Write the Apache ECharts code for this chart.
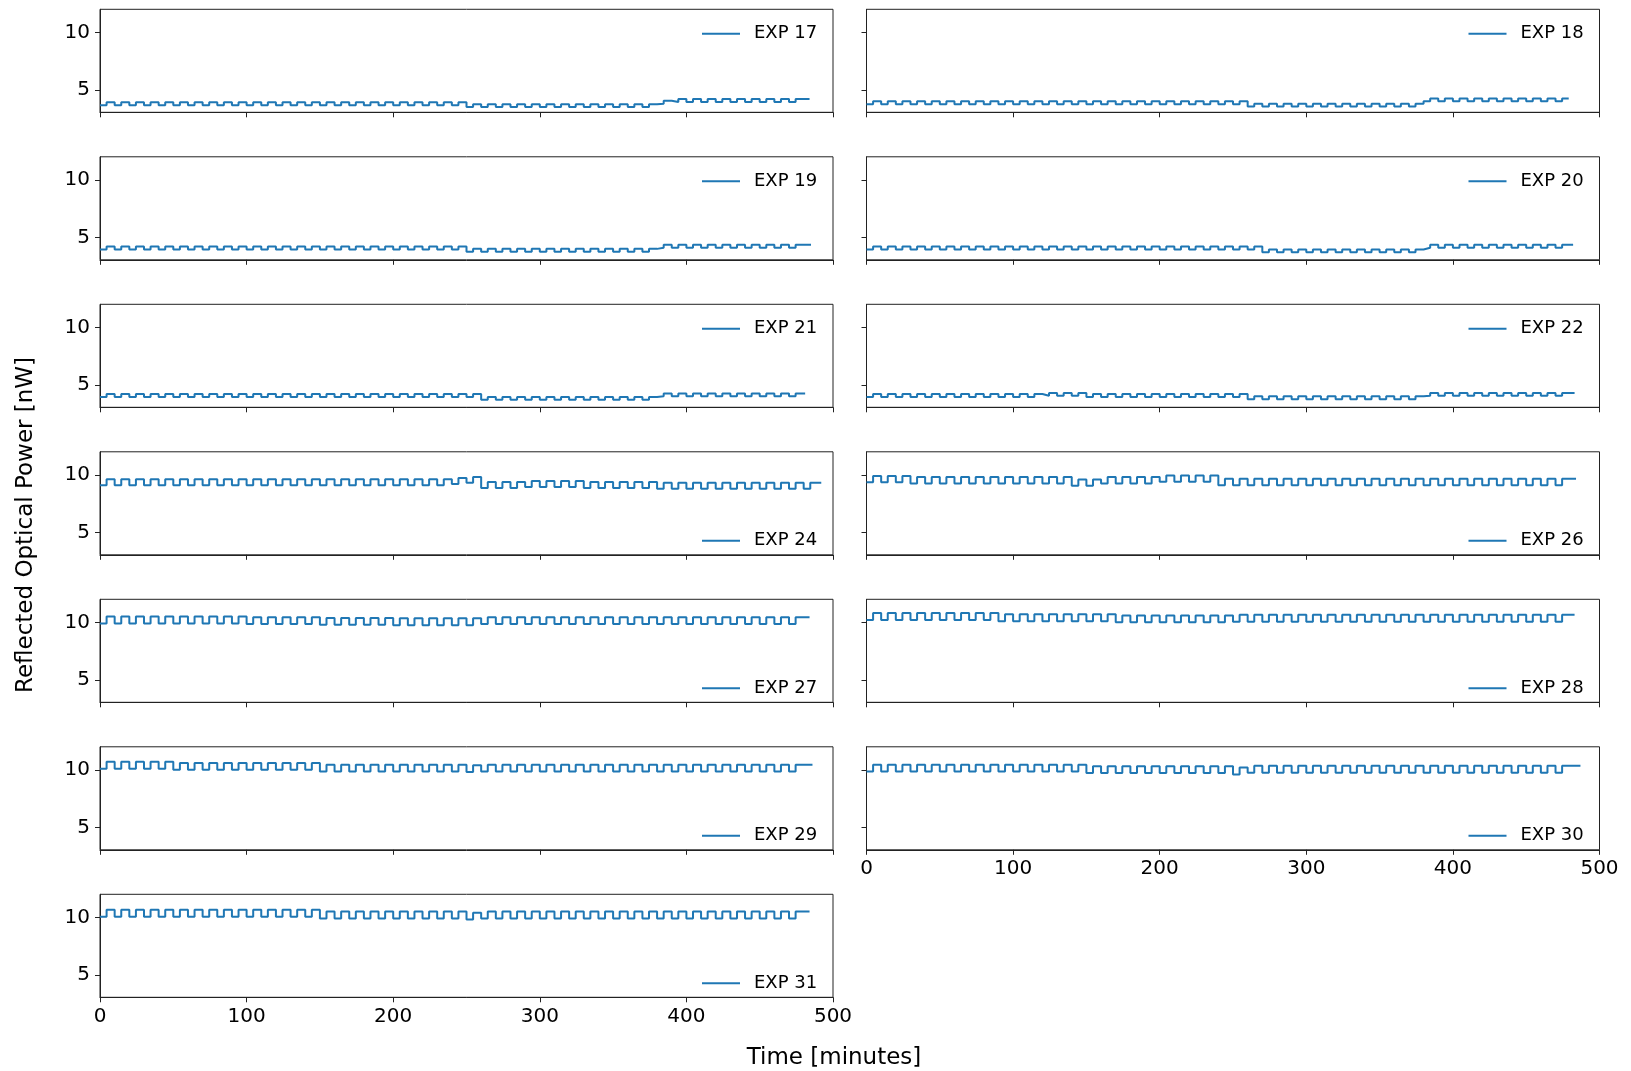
<!DOCTYPE html>
<html lang="en">
<head>
    <meta charset="UTF-8">
    <title>Reflected optical power</title>
    <script src="https://cdn.jsdelivr.net/npm/echarts@6/dist/echarts.min.js"></script>
    <style>
        html, body {
            margin: 0;
            padding: 0;
            background: #fff;
        }
        #chart {
            width: 1631px;
            height: 1071px;
        }
    </style>
</head>
<body>
<div id="chart"></div>
<script>
    // start of each 10 minute cycle, the signal goes high a bit later in the cycle
    var cycleStart = [0, 10, 20, 30, 40, 50, 60, 70, 80, 90,
        100, 110, 120, 130, 140, 150, 160, 170, 180, 190,
        200, 210, 220, 230, 240, 250, 260, 270, 280, 290,
        300, 310, 320, 330, 340, 350, 360, 370, 380, 390,
        400, 410, 420, 430, 440, 450, 460, 470, 480];
    var riseAfter = 4.5;

    var expNames = ['EXP 17', 'EXP 18', 'EXP 19', 'EXP 20', 'EXP 21', 'EXP 22', 'EXP 24',
        'EXP 26', 'EXP 27', 'EXP 28', 'EXP 29', 'EXP 30', 'EXP 31'];
    var endTimes = [484, 479, 485, 482, 481, 483, 492, 484, 484, 483, 486, 487, 484];
    var yTicks = [5, 10];

    // low / high level of every cycle [nW]
    var low17 = [3.67,3.67,3.67,3.67,3.67,3.67,3.67,3.67,3.67,3.67,
        3.67,3.67,3.67,3.67,3.67,3.67,3.67,3.67,3.67,3.67,
        3.67,3.67,3.67,3.67,3.67,3.50,3.50,3.50,3.50,3.50,
        3.50,3.50,3.50,3.50,3.50,3.50,3.50,3.50,3.80,3.95,
        3.95,3.95,3.95,3.95,3.95,3.95,3.95,3.95];
    var high17 = [3.93,3.93,3.93,3.93,3.93,3.93,3.93,3.93,3.93,3.93,
        3.93,3.93,3.93,3.93,3.93,3.93,3.93,3.93,3.93,3.93,
        3.93,3.93,3.93,3.93,3.93,3.75,3.75,3.75,3.75,3.75,
        3.75,3.75,3.75,3.75,3.75,3.75,3.75,3.75,4.05,4.20,
        4.20,4.20,4.20,4.20,4.20,4.20,4.20,4.20];

    var low18 = [3.75,3.75,3.75,3.75,3.75,3.75,3.75,3.75,3.75,3.75,
        3.75,3.75,3.75,3.75,3.75,3.75,3.75,3.75,3.75,3.75,
        3.75,3.75,3.75,3.75,3.75,3.75,3.55,3.55,3.55,3.55,
        3.55,3.55,3.55,3.55,3.55,3.55,3.55,3.55,4.00,4.00,
        4.00,4.00,4.00,4.00,4.00,4.00,4.00,4.00];
    var high18 = [4.00,4.00,4.00,4.00,4.00,4.00,4.00,4.00,4.00,4.00,
        4.00,4.00,4.00,4.00,4.00,4.00,4.00,4.00,4.00,4.00,
        4.00,4.00,4.00,4.00,4.00,4.00,3.80,3.80,3.80,3.80,
        3.80,3.80,3.80,3.80,3.80,3.80,3.80,3.80,4.25,4.25,
        4.25,4.25,4.25,4.25,4.25,4.25,4.25,4.25];

    var low19 = [3.95,3.95,3.95,3.95,3.95,3.95,3.95,3.95,3.95,3.95,
        3.95,3.95,3.95,3.95,3.95,3.95,3.95,3.95,3.95,3.95,
        3.95,3.95,3.95,3.95,3.95,3.75,3.75,3.75,3.75,3.75,
        3.75,3.75,3.75,3.75,3.75,3.75,3.75,3.75,4.10,4.10,
        4.10,4.10,4.10,4.10,4.10,4.10,4.10,4.10];
    var high19 = [4.20,4.20,4.20,4.20,4.20,4.20,4.20,4.20,4.20,4.20,
        4.20,4.20,4.20,4.20,4.20,4.20,4.20,4.20,4.20,4.20,
        4.20,4.20,4.20,4.20,4.20,4.00,4.00,4.00,4.00,4.00,
        4.00,4.00,4.00,4.00,4.00,4.00,4.00,4.00,4.35,4.35,
        4.35,4.35,4.35,4.35,4.35,4.35,4.35,4.35];

    var low20 = [3.95,3.95,3.95,3.95,3.95,3.95,3.95,3.95,3.95,3.95,
        3.95,3.95,3.95,3.95,3.95,3.95,3.95,3.95,3.95,3.95,
        3.95,3.95,3.95,3.95,3.95,3.95,3.95,3.70,3.70,3.70,
        3.70,3.70,3.70,3.70,3.70,3.70,3.70,3.70,4.10,4.10,
        4.10,4.10,4.10,4.10,4.10,4.10,4.10,4.10];
    var high20 = [4.20,4.20,4.20,4.20,4.20,4.20,4.20,4.20,4.20,4.20,
        4.20,4.20,4.20,4.20,4.20,4.20,4.20,4.20,4.20,4.20,
        4.20,4.20,4.20,4.20,4.20,4.20,4.20,3.95,3.95,3.95,
        3.95,3.95,3.95,3.95,3.95,3.95,3.95,3.95,4.35,4.35,
        4.35,4.35,4.35,4.35,4.35,4.35,4.35,4.35];

    var low21 = [3.95,3.95,3.95,3.95,3.95,3.95,3.95,3.95,3.95,3.95,
        3.95,3.95,3.95,3.95,3.95,3.95,3.95,3.95,3.95,3.95,
        3.95,3.95,3.95,3.95,3.95,3.95,3.70,3.70,3.70,3.70,
        3.70,3.70,3.70,3.70,3.70,3.70,3.70,3.70,4.00,4.00,
        4.00,4.00,4.00,4.00,4.00,4.00,4.00,4.00];
    var high21 = [4.20,4.20,4.20,4.20,4.20,4.20,4.20,4.20,4.20,4.20,
        4.20,4.20,4.20,4.20,4.20,4.20,4.20,4.20,4.20,4.20,
        4.20,4.20,4.20,4.20,4.20,4.20,3.95,3.95,3.95,3.95,
        3.95,3.95,3.95,3.95,3.95,3.95,3.95,3.95,4.25,4.25,
        4.25,4.25,4.25,4.25,4.25,4.25,4.25,4.25];

    var low22 = [3.95,3.95,3.95,3.95,3.95,3.95,3.95,3.95,3.95,3.95,
        3.95,3.95,4.05,4.05,4.05,3.95,3.95,3.95,3.95,3.95,
        3.95,3.95,3.95,3.95,3.95,3.95,3.75,3.75,3.75,3.75,
        3.75,3.75,3.75,3.75,3.75,3.75,3.75,3.75,4.05,4.05,
        4.05,4.05,4.05,4.05,4.05,4.05,4.05,4.05];
    var high22 = [4.20,4.20,4.20,4.20,4.20,4.20,4.20,4.20,4.20,4.20,
        4.20,4.20,4.30,4.30,4.30,4.20,4.20,4.20,4.20,4.20,
        4.20,4.20,4.20,4.20,4.20,4.20,4.00,4.00,4.00,4.00,
        4.00,4.00,4.00,4.00,4.00,4.00,4.00,4.00,4.30,4.30,
        4.30,4.30,4.30,4.30,4.30,4.30,4.30,4.30];

    var low24 = [9.10,9.10,9.10,9.10,9.10,9.10,9.10,9.10,9.10,9.10,
        9.10,9.10,9.10,9.10,9.10,9.10,9.10,9.10,9.10,9.10,
        9.10,9.10,9.10,9.10,9.20,9.30,8.85,8.85,8.85,8.95,
        8.95,8.95,8.95,8.85,8.85,8.85,8.85,8.85,8.80,8.80,
        8.80,8.80,8.80,8.80,8.80,8.80,8.80,8.80,8.80];
    var high24 = [9.62,9.62,9.62,9.62,9.62,9.62,9.62,9.62,9.62,9.62,
        9.62,9.62,9.62,9.62,9.62,9.62,9.62,9.62,9.62,9.62,
        9.62,9.62,9.62,9.62,9.72,9.82,9.37,9.37,9.37,9.47,
        9.47,9.47,9.47,9.37,9.37,9.37,9.37,9.37,9.32,9.32,
        9.32,9.32,9.32,9.32,9.32,9.32,9.32,9.32,9.32];

    var low26 = [9.35,9.35,9.35,9.25,9.25,9.25,9.25,9.25,9.25,9.25,
        9.25,9.25,9.25,9.25,9.05,9.05,9.25,9.25,9.25,9.25,
        9.40,9.40,9.40,9.40,9.10,9.10,9.10,9.10,9.10,9.10,
        9.10,9.10,9.10,9.10,9.10,9.10,9.10,9.10,9.10,9.10,
        9.10,9.10,9.10,9.10,9.10,9.10,9.10,9.10];
    var high26 = [9.90,9.90,9.90,9.80,9.80,9.80,9.80,9.80,9.80,9.80,
        9.80,9.80,9.80,9.80,9.60,9.60,9.80,9.80,9.80,9.80,
        9.95,9.95,9.95,9.95,9.65,9.65,9.65,9.65,9.65,9.65,
        9.65,9.65,9.65,9.65,9.65,9.65,9.65,9.65,9.65,9.65,
        9.65,9.65,9.65,9.65,9.65,9.65,9.65,9.65];

    var low27 = [9.90,9.90,9.90,9.90,9.90,9.90,9.90,9.90,9.90,9.90,
        9.85,9.85,9.85,9.85,9.85,9.78,9.78,9.78,9.78,9.78,
        9.75,9.75,9.75,9.75,9.75,9.75,9.85,9.85,9.85,9.85,
        9.85,9.85,9.85,9.85,9.85,9.85,9.85,9.85,9.85,9.85,
        9.85,9.85,9.85,9.85,9.85,9.85,9.85,9.85];
    var high27 = [10.50,10.50,10.50,10.50,10.50,10.50,10.50,10.50,10.50,10.50,
        10.45,10.45,10.45,10.45,10.45,10.38,10.38,10.38,10.38,10.38,
        10.35,10.35,10.35,10.35,10.35,10.35,10.45,10.45,10.45,10.45,
        10.45,10.45,10.45,10.45,10.45,10.45,10.45,10.45,10.45,10.45,
        10.45,10.45,10.45,10.45,10.45,10.45,10.45,10.45];

    var low28 = [10.20,10.20,10.20,10.20,10.20,10.20,10.20,10.20,10.20,10.10,
        10.10,10.10,10.10,10.10,10.10,10.10,10.10,10.00,10.00,10.00,
        10.00,10.00,10.00,10.00,10.00,10.05,10.05,10.05,10.05,10.05,
        10.05,10.05,10.05,10.05,10.05,10.05,10.05,10.05,10.05,10.05,
        10.05,10.05,10.05,10.05,10.05,10.05,10.05,10.05];
    var high28 = [10.80,10.80,10.80,10.80,10.80,10.80,10.80,10.80,10.80,10.70,
        10.70,10.70,10.70,10.70,10.70,10.70,10.70,10.60,10.60,10.60,
        10.60,10.60,10.60,10.60,10.60,10.65,10.65,10.65,10.65,10.65,
        10.65,10.65,10.65,10.65,10.65,10.65,10.65,10.65,10.65,10.65,
        10.65,10.65,10.65,10.65,10.65,10.65,10.65,10.65];

    var low29 = [10.10,10.10,10.10,10.10,10.10,10.00,10.00,10.00,10.00,10.00,
        10.00,10.00,10.00,10.00,10.00,9.85,9.85,9.85,9.85,9.85,
        9.85,9.85,9.85,9.85,9.85,9.80,9.85,9.85,9.85,9.85,
        9.85,9.85,9.85,9.85,9.85,9.85,9.85,9.85,9.85,9.85,
        9.85,9.85,9.85,9.85,9.85,9.85,9.85,9.85];
    var high29 = [10.70,10.70,10.70,10.70,10.70,10.60,10.60,10.60,10.60,10.60,
        10.60,10.60,10.60,10.60,10.60,10.45,10.45,10.45,10.45,10.45,
        10.45,10.45,10.45,10.45,10.45,10.40,10.45,10.45,10.45,10.45,
        10.45,10.45,10.45,10.45,10.45,10.45,10.45,10.45,10.45,10.45,
        10.45,10.45,10.45,10.45,10.45,10.45,10.45,10.45];

    var low30 = [9.85,9.85,9.85,9.85,9.85,9.85,9.85,9.85,9.85,9.85,
        9.85,9.85,9.85,9.85,9.85,9.72,9.72,9.72,9.72,9.72,
        9.72,9.72,9.72,9.72,9.72,9.60,9.75,9.75,9.75,9.75,
        9.75,9.75,9.75,9.75,9.75,9.75,9.75,9.75,9.75,9.75,
        9.75,9.75,9.75,9.75,9.75,9.75,9.75,9.75];
    var high30 = [10.45,10.45,10.45,10.45,10.45,10.45,10.45,10.45,10.45,10.45,
        10.45,10.45,10.45,10.45,10.45,10.32,10.32,10.32,10.32,10.32,
        10.32,10.32,10.32,10.32,10.32,10.20,10.35,10.35,10.35,10.35,
        10.35,10.35,10.35,10.35,10.35,10.35,10.35,10.35,10.35,10.35,
        10.35,10.35,10.35,10.35,10.35,10.35,10.35,10.35];

    var low31 = [10.05,10.05,10.05,10.05,10.05,10.05,10.05,10.05,10.05,10.05,
        10.05,10.05,10.05,10.05,10.05,9.90,9.90,9.90,9.90,9.90,
        9.90,9.90,9.90,9.90,9.90,9.80,9.90,9.90,9.90,9.90,
        9.90,9.90,9.90,9.90,9.90,9.90,9.90,9.90,9.90,9.90,
        9.90,9.90,9.90,9.90,9.90,9.90,9.90,9.90];
    var high31 = [10.65,10.65,10.65,10.65,10.65,10.65,10.65,10.65,10.65,10.65,
        10.65,10.65,10.65,10.65,10.65,10.50,10.50,10.50,10.50,10.50,
        10.50,10.50,10.50,10.50,10.50,10.40,10.50,10.50,10.50,10.50,
        10.50,10.50,10.50,10.50,10.50,10.50,10.50,10.50,10.50,10.50,
        10.50,10.50,10.50,10.50,10.50,10.50,10.50,10.50];

    var lows = [low17, low18, low19, low20, low21, low22, low24, low26, low27, low28, low29, low30, low31];
    var highs = [high17, high18, high19, high20, high21, high22, high24, high26, high27, high28, high29, high30, high31];

    function steps(low, high, end) {
        var pts = [];
        for (var k = 0; k < low.length; k++) {
            pts.push([cycleStart[k], low[k]]);
            pts.push([cycleStart[k] + riseAfter, high[k]]);
        }
        pts.push([end, high[high.length - 1]]);
        return pts;
    }

    function buildOption() {
        var font = 'DejaVu Sans';
        var ink = '#000';
        var spine = '#222';
        var grids = [], xAxes = [], yAxes = [], series = [], legends = [];

        for (var i = 0; i < expNames.length; i++) {
            var row = Math.floor(i / 2);
            var col = i % 2;
            var gLeft = col === 0 ? 100 : 866.5;
            var gTop = 9.3 + row * 147.5;
            var showX = (i === 11 || i === 12);

            grids.push({
                left: gLeft, top: gTop, width: 733, height: 103,
                show: true, borderColor: spine, borderWidth: 1, backgroundColor: 'transparent'
            });
            xAxes.push({
                gridIndex: i, type: 'value', min: 0, max: 500, interval: 100,
                axisLine: {onZero: false, lineStyle: {color: spine}},
                axisTick: {show: true, length: 5, lineStyle: {color: spine}},
                axisLabel: {show: showX, fontSize: 20, color: ink, fontFamily: font, margin: 9},
                splitLine: {show: false}
            });
            yAxes.push({
                gridIndex: i, type: 'value', min: 3.05, max: 12,
                axisLine: {onZero: false, lineStyle: {color: spine}},
                axisTick: {show: true, length: 5, lineStyle: {color: spine}, customValues: yTicks},
                axisLabel: {show: col === 0, fontSize: 20, color: ink, fontFamily: font, margin: 10, customValues: yTicks},
                splitLine: {show: false}
            });
            series.push({
                name: expNames[i], type: 'line', step: 'end',
                xAxisIndex: i, yAxisIndex: i,
                symbol: 'none', showSymbol: false,
                lineStyle: {width: 2, color: '#1f77b4'},
                itemStyle: {color: '#1f77b4'},
                data: steps(lows[i], highs[i], endTimes[i])
            });
            legends.push({
                data: [expNames[i]],
                left: gLeft + 602,
                top: i < 6 ? gTop + 15.5 : gTop + 80,
                padding: 0,
                icon: 'rect', itemWidth: 38, itemHeight: 2, itemGap: 0,
                selectedMode: false,
                textStyle: {fontSize: 18, color: ink, fontFamily: font, padding: [0, 0, 0, 9]}
            });
        }

        return {
            animation: false,
            backgroundColor: '#fff',
            grid: grids,
            xAxis: xAxes,
            yAxis: yAxes,
            legend: legends,
            series: series,
            graphic: [{
                type: 'text', x: 26, y: 525, rotation: Math.PI / 2,
                style: {text: 'Reflected Optical Power [nW]', font: '23px "DejaVu Sans"', fill: ink,
                    textAlign: 'center', textVerticalAlign: 'middle'}
            }, {
                type: 'text', x: 834, y: 1058,
                style: {text: 'Time [minutes]', font: '23px "DejaVu Sans"', fill: ink,
                    textAlign: 'center', textVerticalAlign: 'middle'}
            }]
        };
    }

    var myChart = echarts.init(document.getElementById('chart'));
    myChart.setOption(buildOption());
</script>
</body>
</html>
